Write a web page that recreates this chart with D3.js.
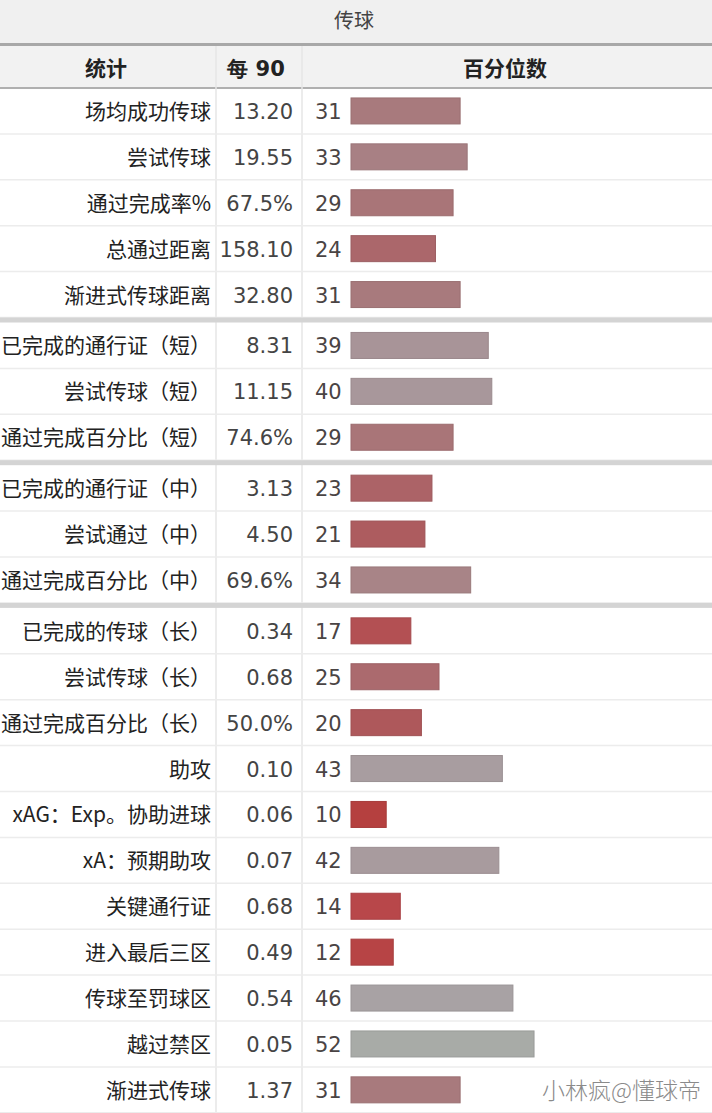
<!DOCTYPE html>
<html><head><meta charset="utf-8">
<script src="https://cdn.jsdelivr.net/npm/d3@7"></script>
<style>
html,body{margin:0;padding:0;background:#fff;}
svg{display:block;}
</style></head>
<body>
<script>
const title = "传球";
const headers = ["统计", "每 90", "百分位数"];
const statLabels = ["场均成功传球","尝试传球","通过完成率%","总通过距离","渐进式传球距离",
  "已完成的通行证（短）","尝试传球（短）","通过完成百分比（短）",
  "已完成的通行证（中）","尝试通过（中）","通过完成百分比（中）",
  "已完成的传球（长）","尝试传球（长）","通过完成百分比（长）","助攻","xAG：Exp。协助进球","xA：预期助攻","关键通行证","进入最后三区","传球至罚球区","越过禁区","渐进式传球"];
const per90 = ["13.20","19.55","67.5%","158.10","32.80","8.31","11.15","74.6%","3.13","4.50","69.6%","0.34","0.68","50.0%","0.10","0.06","0.07","0.68","0.49","0.54","0.05","1.37"];
const percentiles = [31,33,29,24,31,39,40,29,23,21,34,17,25,20,43,10,42,14,12,46,52,31];
const groupOf = [0,0,0,0,0,1,1,1,2,2,2,3,3,3,3,3,3,3,3,3,3,3];
const watermark = "小林疯@懂球帝";

const W = 712, H = 1113;
const rowH = 45.9, sepH = 5, top0 = 88;
const svg = d3.select("body").append("svg").attr("width", W).attr("height", H);

const yBand = d3.scaleBand().domain(d3.range(statLabels.length))
  .range([top0, top0 + rowH * statLabels.length]).paddingInner(0).paddingOuter(0);
const rowY = i => yBand(i) + groupOf[i] * sepH;
const x = d3.scaleLinear().domain([0, 100]).range([351, 703]);
const color = d3.scaleLinear()
  .domain([0, 10, 14, 20, 24, 31, 40, 46, 52, 100])
  .range(["#bb3232", "#b5403f", "#b8474a", "#ae585b", "#ab676b", "#a87a7d", "#a8979b", "#a8a2a4", "#a8aba7", "#a8aba7"])
  .interpolate(d3.interpolateRgb);

const cjk = "'Noto Sans CJK SC', 'Noto Sans', sans-serif";
const num = "'DejaVu Sans', Verdana, sans-serif";
const colX = [0, 216, 302, W];

// title band
svg.append("rect").attr("x", 0).attr("y", 0).attr("width", W).attr("height", 44).attr("fill", "#f0f0f0");
svg.append("text").attr("x", 354).attr("y", 28).attr("text-anchor", "middle")
  .attr("font-family", cjk).attr("font-size", 20).attr("fill", "#444").text(title);
svg.append("rect").attr("x", 0).attr("y", 43).attr("width", W).attr("height", 3).attr("fill", "#a8a8a8");

// header row
svg.append("rect").attr("x", 0).attr("y", 46).attr("width", W).attr("height", 41).attr("fill", "#f2f2f2");
svg.append("rect").attr("x", 0).attr("y", 87).attr("width", W).attr("height", 2).attr("fill", "#b0b0b0");
const headerCenters = [106, 256, 505];
svg.selectAll("text.hdr").data(headers).join("text").attr("class", "hdr")
  .attr("x", (d, i) => headerCenters[i]).attr("y", 76).attr("text-anchor", "middle")
  .attr("font-family", (d, i) => i === 1 ? num : cjk).attr("font-weight", "bold")
  .attr("font-size", 21).attr("fill", "#222").text(d => d);

// vertical column lines
svg.selectAll("line.vcol").data([colX[1], colX[2]]).join("line").attr("class", "vcol")
  .attr("x1", d => d).attr("x2", d => d).attr("y1", 46).attr("y2", H)
  .attr("stroke", "#e6e6e6").attr("stroke-width", 1.5);

// rows
const rows = svg.selectAll("g.row").data(statLabels).join("g").attr("class", "row")
  .attr("transform", (d, i) => `translate(0,${rowY(i)})`);
rows.append("line").attr("x1", 0).attr("x2", W).attr("y1", rowH).attr("y2", rowH)
  .attr("stroke", "#ececec").attr("stroke-width", 1.5);

// group separators
const groupStarts = d3.range(1, statLabels.length).filter(i => groupOf[i] !== groupOf[i - 1]);
svg.selectAll("rect.gsep").data(groupStarts).join("rect").attr("class", "gsep")
  .attr("x", 0).attr("width", W).attr("y", i => rowY(i) - sepH).attr("height", sepH)
  .attr("fill", "#d4d4d4");

const mid = rowH / 2;
rows.append("text").attr("x", 211).attr("y", mid + 8).attr("text-anchor", "end")
  .attr("font-family", cjk).attr("font-size", 21).attr("fill", "#222").text(d => d);
rows.append("text").attr("x", 293).attr("y", mid + 8).attr("text-anchor", "end")
  .attr("font-family", num).attr("font-size", 21).attr("fill", "#444").text((d, i) => per90[i]);
rows.append("text").attr("x", 315).attr("y", mid + 8)
  .attr("font-family", num).attr("font-size", 21).attr("fill", "#4a4444").text((d, i) => percentiles[i]);
rows.append("rect").attr("x", x(0)).attr("y", mid - 13).attr("height", 26)
  .attr("width", (d, i) => x(percentiles[i]) - x(0))
  .attr("fill", (d, i) => color(percentiles[i]))
  .attr("stroke", (d, i) => d3.color(color(percentiles[i])).darker(0.25)).attr("stroke-width", 1);

// watermark
svg.append("text").attr("x", 701).attr("y", 1099).attr("text-anchor", "end")
  .attr("font-family", cjk).attr("font-size", 23).attr("font-weight", 300)
  .attr("fill", "#8a8a8a").text(watermark);
</script>
</body></html>
